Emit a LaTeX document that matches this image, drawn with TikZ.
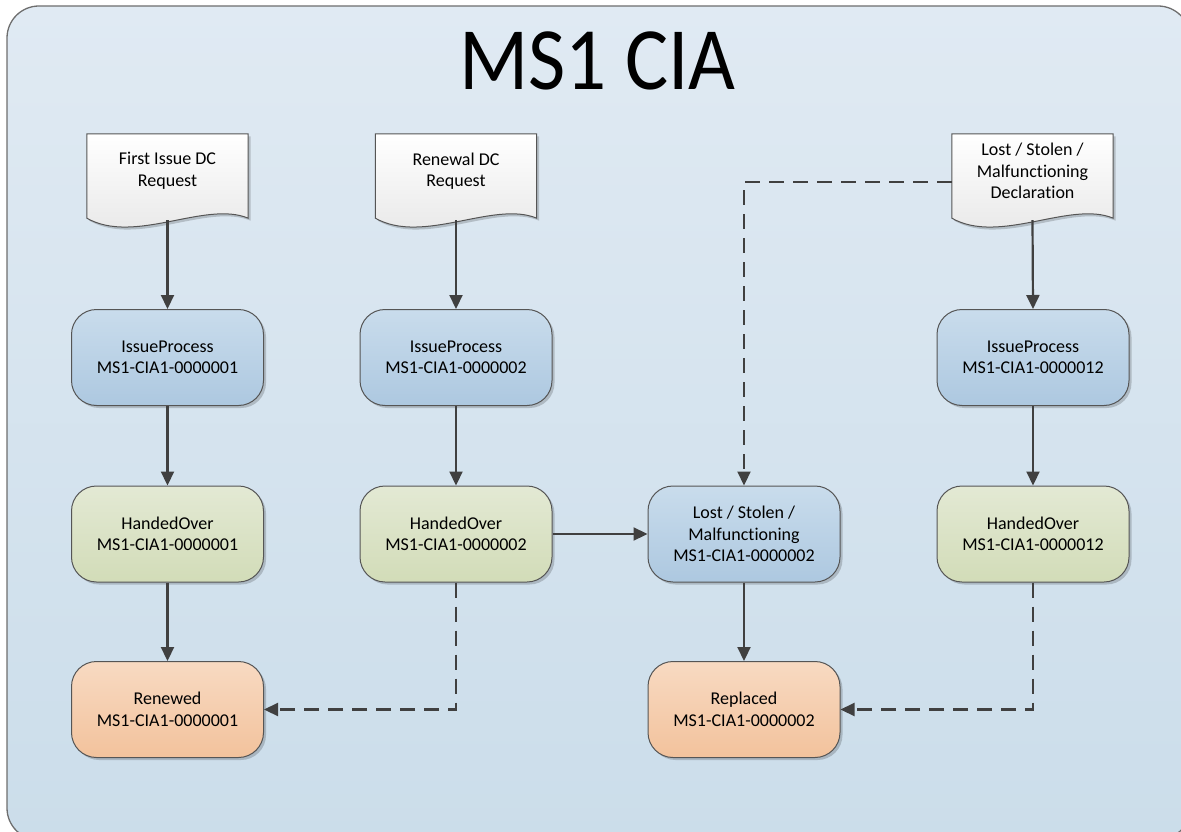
\documentclass[tikz,border=0pt]{standalone}
\usepackage{fontspec}
\setmainfont{Carlito}[RawFeature={-liga;-dlig}]
\usetikzlibrary{arrows.meta,shadows,calc}
\pgfdeclarelayer{frame}
\pgfdeclarelayer{background}
\pgfsetlayers{frame,background,main}
\definecolor{framecol}{HTML}{6E6E6E}
\definecolor{bgtop}{HTML}{E0EAF3}
\definecolor{bgbot}{HTML}{CBDDEA}
\definecolor{bluetop}{HTML}{C9DCEC}
\definecolor{bluebot}{HTML}{ADC8E0}
\definecolor{greentop}{HTML}{E3E9D4}
\definecolor{greenbot}{HTML}{D2DCB8}
\definecolor{orangetop}{HTML}{F8DAC2}
\definecolor{orangebot}{HTML}{F2C29C}
\definecolor{linecol}{HTML}{404040}
\definecolor{edgecol}{HTML}{555555}
\definecolor{doctop}{HTML}{FFFFFF}
\definecolor{docbot}{HTML}{E6E6E6}
\tikzset{
  lbl/.style={font=\fontsize{18}{21.5}\selectfont, align=center, text=black},
  shad/.style={drop shadow={shadow xshift=2.5pt, shadow yshift=-2.5pt, opacity=0.18, fill=black}},
  stbox/.style={lbl, rounded corners=25pt, draw=edgecol, line width=1pt,
    minimum width=192pt, minimum height=96pt, inner sep=0pt, shad},
  bluebox/.style={stbox, top color=bluetop, bottom color=bluebot},
  greenbox/.style={stbox, top color=greentop, bottom color=greenbot},
  orangebox/.style={stbox, top color=orangetop, bottom color=orangebot},
  docnode/.style={lbl, minimum width=161pt, minimum height=74pt, inner sep=0pt},
  docshape/.style={draw=edgecol, line width=1pt, top color=doctop, bottom color=docbot, shad},
  conn/.style={draw=linecol, line width=2.2pt, -{Triangle[length=14pt,width=13pt]}},
  dconn/.style={conn, dash pattern=on 15pt off 9pt}
}
\newcommand{\drawdoc}[1]{%
  \begin{pgfonlayer}{background}
  \path[docshape] (#1.north west) -- (#1.north east) -- ([yshift=-10pt]#1.south east)
    .. controls ($(#1.south east)+(-43,8)$) and ($(#1.south west)+(48,-37)$) .. ([yshift=-10pt]#1.south west) -- cycle;
  \end{pgfonlayer}}
\begin{document}
\begin{tikzpicture}[x=1pt,y=1pt]
\useasboundingbox (0,0) rectangle (1181,-832);
\begin{pgfonlayer}{frame}
\begin{scope}
\clip (0,0) rectangle (1181,-832);
\path[draw=framecol, line width=1.3pt, top color=bgtop, bottom color=bgbot, rounded corners=32pt] (7,-6) rectangle (1190,-840);
\end{scope}
\end{pgfonlayer}

\node[anchor=base, font=\fontsize{89}{90}\selectfont] (title) at (597.5,-90) {\scalebox{0.91}[1]{MS1 CIA}};

% documents
\node[docnode] (d1) at (167.5,-171) {First Issue DC\\Request};
\node[docnode] (d2) at (456,-171) {Renewal DC\\Request};
\node[docnode] (d3) at (1032.5,-171) {Lost / Stolen /\\Malfunctioning\\Declaration};
\drawdoc{d1}\drawdoc{d2}\drawdoc{d3}

% process boxes
\node[bluebox] (ip1) at (167.5,-357.5) {IssueProcess\\MS1-CIA1-0000001};
\node[bluebox] (ip2) at (456,-357.5) {IssueProcess\\MS1-CIA1-0000002};
\node[bluebox] (ip3) at (1033,-357.5) {IssueProcess\\MS1-CIA1-0000012};

\node[greenbox] (ho1) at (167.5,-534) {HandedOver\\MS1-CIA1-0000001};
\node[greenbox] (ho2) at (456,-534) {HandedOver\\MS1-CIA1-0000002};
\node[bluebox] (lost) at (744,-534) {Lost / Stolen /\\Malfunctioning\\MS1-CIA1-0000002};
\node[greenbox] (ho3) at (1033,-534) {HandedOver\\MS1-CIA1-0000012};

\node[orangebox] (ren) at (167.5,-709.5) {Renewed\\MS1-CIA1-0000001};
\node[orangebox] (rep) at (744,-709.5) {Replaced\\MS1-CIA1-0000002};

% connectors
\draw[conn] ([yshift=-12pt]d1.south) -- (ip1.north);
\draw[conn] ([yshift=-12pt]d2.south) -- (ip2.north);
\draw[conn] ([yshift=-12pt]d3.south) -- (ip3.north);
\draw[conn] (ip1.south) -- (ho1.north);
\draw[conn] (ip2.south) -- (ho2.north);
\draw[conn] (ip3.south) -- (ho3.north);
\draw[conn] (ho1.south) -- (ren.north);
\draw[conn] (lost.south) -- (rep.north);
\draw[conn] (ho2.east) -- (lost.west);
\draw[dconn] ([yshift=-11pt]d3.west) -| (lost.north);
\draw[dconn] (ho2.south) |- (ren.east);
\draw[dconn] (ho3.south) |- (rep.east);
\end{tikzpicture}
\end{document}
